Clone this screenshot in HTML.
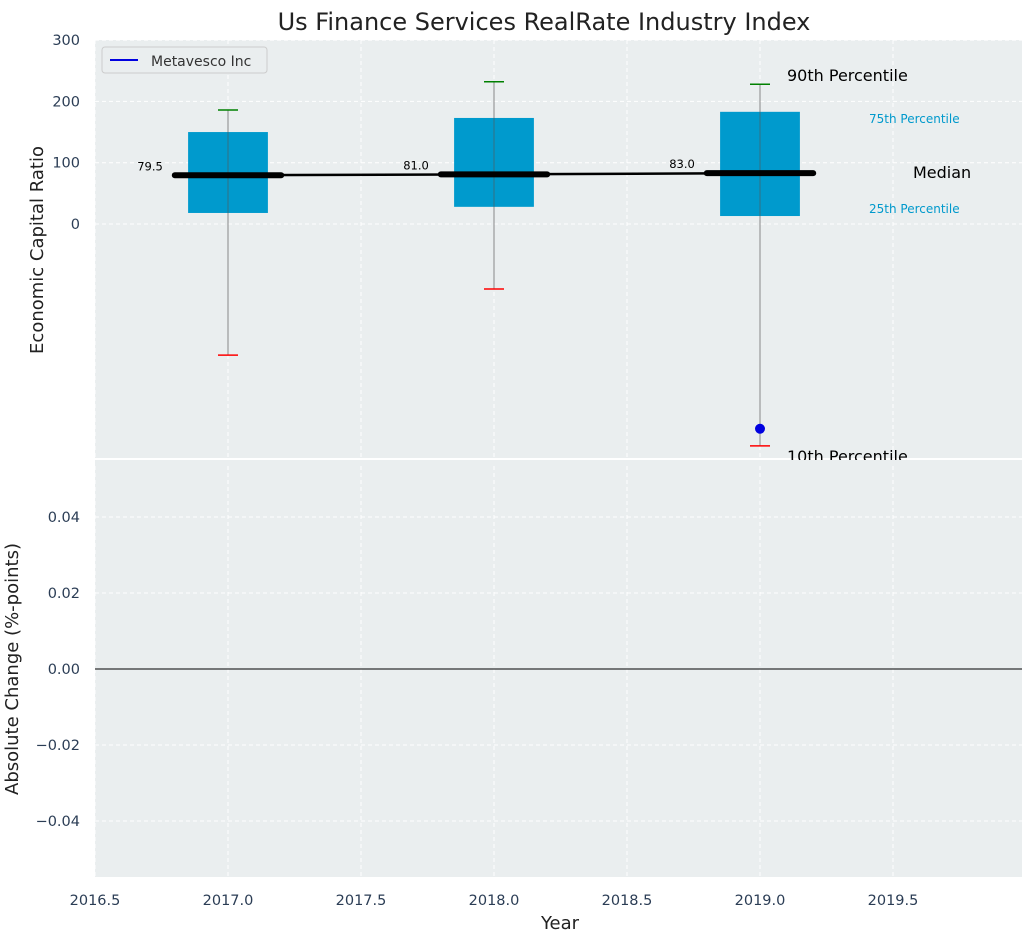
<!DOCTYPE html>
<html><head><meta charset="utf-8"><style>
body{margin:0;background:#fff;font-family:"Liberation Sans","DejaVu Sans",sans-serif;}
svg text{font-family:"DejaVu Sans","Liberation Sans",sans-serif;}
</style></head><body>
<svg id="c" width="1034" height="942" xmlns="http://www.w3.org/2000/svg"></svg>
<script>
const years=[2017,2018,2019];
const p10=[-214,-106,-362];
const p25=[18,28,13];
const medians=[79.5,81.0,83.0];
const p75=[150,173,183];
const p90=[186,232,228];
const companyYears=[2019];
const companyValues=[-334];
const topTicks=[0,100,200,300];
const bottomTicks=[-0.04,-0.02,0,0.02,0.04];
const xTicks=[2016.5,2017,2017.5,2018,2018.5,2019,2019.5];

const NS="http://www.w3.org/2000/svg";
const svg=document.getElementById('c');
function el(t,a,p){const e=document.createElementNS(NS,t);for(const k in a)e.setAttribute(k,a[k]);(p||svg).appendChild(e);return e;}
const L=95,R=1022,T1=40,B1=459,T2=459,B2=877;
const X=v=>L+(v-2016.5)*266;
const Y1=v=>224-v*0.613;
const Y2=v=>669-v*3800;

let bg=el('rect',{x:L,y:T1,width:R-L,height:B1-T1,fill:'#eaeeef'});

let bg2=el('rect',{x:L,y:T2,width:R-L,height:B2-T2,fill:'#eaeeef'});

el('line',{x1:L,x2:R,y1:459,y2:459,stroke:'#fff','stroke-width':2});

xTicks.forEach(t=>{
  [[T1,B1],[T2,B2]].forEach(r=>el('line',{x1:X(t),x2:X(t),y1:r[0],y2:r[1],stroke:'#fff','stroke-dasharray':'4,3','stroke-width':1}));
  const tx=el('text',{x:X(t),y:905,'text-anchor':'middle','font-size':14.5,fill:'#2b3d55'});tx.textContent=t.toFixed(1);
  
});
topTicks.forEach(t=>{
  el('line',{x1:L,x2:R,y1:Y1(t),y2:Y1(t),stroke:'#fff','stroke-dasharray':'4,3'});
  const tx=el('text',{x:80,y:Y1(t)+5,'text-anchor':'end','font-size':14.5,fill:'#2b3d55'});tx.textContent=t;
  
});
bottomTicks.forEach(t=>{
  el('line',{x1:L,x2:R,y1:Y2(t),y2:Y2(t),stroke:'#fff','stroke-dasharray':'4,3'});
  const tx=el('text',{x:80,y:Y2(t)+5,'text-anchor':'end','font-size':14.5,fill:'#2b3d55'});
  tx.textContent=(t<0?'\u2212':'')+Math.abs(t).toFixed(2);
  
});
el('line',{x1:L,x2:R,y1:Y2(0),y2:Y2(0),stroke:'#000','stroke-width':1});

years.forEach((yr,i)=>{
  const cx=X(yr),hw=0.15*266;
  const w=el('line',{x1:cx,x2:cx,y1:Y1(p90[i]),y2:Y1(p10[i]),stroke:'#888','stroke-width':1});
  
  const b=el('rect',{x:cx-hw,y:Y1(p75[i]),width:2*hw,height:Y1(p25[i])-Y1(p75[i]),fill:'#009acd'});
  
  el('line',{x1:cx,x2:cx,y1:Y1(p75[i]),y2:Y1(p25[i]),stroke:'#555','stroke-width':1,opacity:0.6});
  el('line',{x1:cx-10,x2:cx+10,y1:Y1(p90[i]),y2:Y1(p90[i]),stroke:'green','stroke-width':1.5});
  el('line',{x1:cx-10,x2:cx+10,y1:Y1(p10[i]),y2:Y1(p10[i]),stroke:'red','stroke-width':1.5});
  const m=el('line',{x1:cx-0.2*266,x2:cx+0.2*266,y1:Y1(medians[i]),y2:Y1(medians[i]),stroke:'#000','stroke-width':6,'stroke-linecap':'round'});
  
  const t=el('text',{x:cx-78,y:Y1(medians[i])-5,'text-anchor':'middle','font-size':11.5,fill:'#000'});t.textContent=medians[i].toFixed(1);
  
});
const ml=el('polyline',{points:years.map((y,i)=>X(y)+','+Y1(medians[i])).join(' '),fill:'none',stroke:'#000','stroke-width':2.5});

companyYears.forEach((y,i)=>{
  const c=el('circle',{cx:X(y),cy:Y1(companyValues[i]),r:5,fill:'#0000e0'});
  
});

function txt(x,y,s,size,fill,name,anchor){const t=el('text',{x:x,y:y,'font-size':size,fill:fill,'text-anchor':anchor||'start'});t.textContent=s;return t;}
txt(787,81,'90th Percentile',16,'#000','p90-annotation');
txt(869,123,'75th Percentile',12,'#0099cc','p75-annotation');
txt(913,178,'Median',16,'#000','median-annotation');
txt(869,213,'25th Percentile',12,'#0099cc','p25-annotation');
txt(787,462,'10th Percentile',16,'#000','p10-annotation');
el('rect',{x:L,y:460,width:R-L,height:6,fill:'#eaeeef'});

const lg=el('g',{});
el('rect',{x:102,y:47,width:165,height:26,rx:3,fill:'#eaeeef',stroke:'#ccc'},lg);
el('line',{x1:110,x2:138,y1:60,y2:60,stroke:'#0000e0','stroke-width':2},lg);
const lt=el('text',{x:151,y:66,'font-size':14,fill:'#333'},lg);lt.textContent='Metavesco Inc';


txt(544,30,'Us Finance Services RealRate Industry Index',24,'#222','chart-title','middle');
txt(560,929,'Year',18,'#222','x-axis-title','middle');
const ya=txt(0,0,'Economic Capital Ratio',18,'#222','top-y-axis-title','middle');ya.setAttribute('transform','translate(43,250) rotate(-90)');
const yb=txt(0,0,'Absolute Change (%-points)',18,'#222','bottom-y-axis-title','middle');yb.setAttribute('transform','translate(18,669) rotate(-90)');
</script>
</body></html>
